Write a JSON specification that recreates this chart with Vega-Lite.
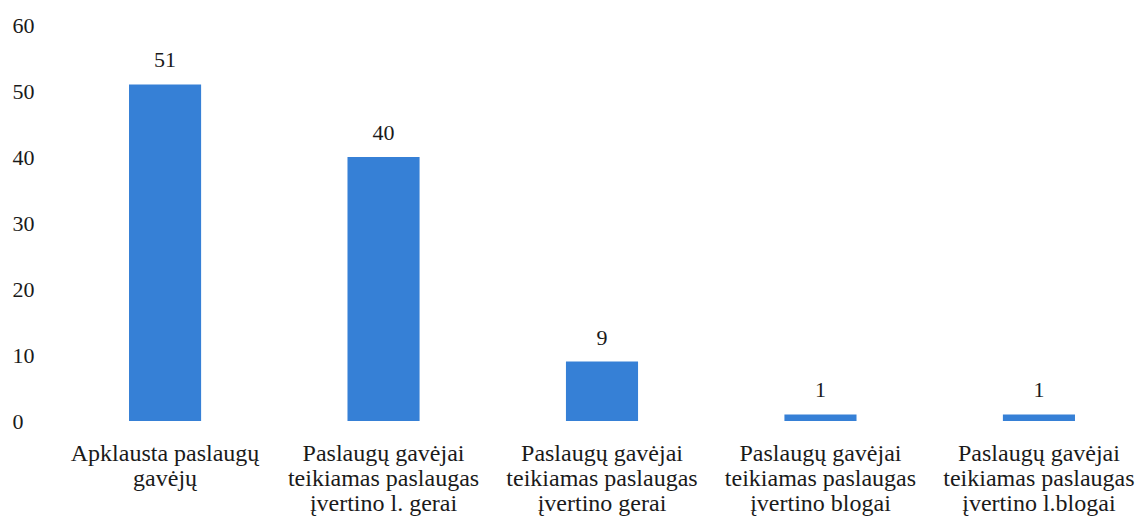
{
  "$schema": "https://vega.github.io/schema/vega-lite/v6.json",
  "width": 1074,
  "height": 396,
  "autosize": {"type": "none"},
  "padding": {"left": 65, "top": 25, "right": 0, "bottom": 102},
  "background": "white",
  "config": {
    "view": {"stroke": null},
    "font": "Liberation Serif"
  },
  "data": {
    "values": [
      {"kategorija": "Apklausta paslaugų\ngavėjų", "skaicius": 51},
      {"kategorija": "Paslaugų gavėjai\nteikiamas paslaugas\nįvertino l. gerai", "skaicius": 40},
      {"kategorija": "Paslaugų gavėjai\nteikiamas paslaugas\nįvertino gerai", "skaicius": 9},
      {"kategorija": "Paslaugų gavėjai\nteikiamas paslaugas\nįvertino blogai", "skaicius": 1},
      {"kategorija": "Paslaugų gavėjai\nteikiamas paslaugas\nįvertino l.blogai", "skaicius": 1}
    ]
  },
  "encoding": {
    "x": {
      "field": "kategorija",
      "type": "nominal",
      "sort": null,
      "scale": {"paddingInner": 0.67, "paddingOuter": 0.293},
      "axis": {
        "title": null,
        "domain": false,
        "ticks": false,
        "labelAngle": 0,
        "labelExpr": "split(datum.label, '\\n')",
        "labelLineHeight": 25,
        "labelBaseline": "top",
        "labelPadding": 20,
        "labelFontSize": 24,
        "labelFont": "Liberation Serif",
        "labelColor": "#1a1a1a",
        "labelLimit": 400,
        "labelOverlap": false,
        "labelBound": false
      }
    },
    "y": {
      "field": "skaicius",
      "type": "quantitative",
      "scale": {"domain": [0, 60], "nice": false},
      "axis": {
        "title": null,
        "domain": false,
        "ticks": false,
        "grid": false,
        "values": [0, 10, 20, 30, 40, 50, 60],
        "labelAlign": "left",
        "labelPadding": 53,
        "labelFontSize": 22,
        "labelFont": "Liberation Serif",
        "labelColor": "#1a1a1a"
      }
    }
  },
  "layer": [
    {
      "mark": {"type": "bar", "color": "#3680d6"}
    },
    {
      "mark": {
        "type": "text",
        "baseline": "middle",
        "dy": -24,
        "fontSize": 22,
        "font": "Liberation Serif",
        "color": "#1a1a1a"
      },
      "encoding": {
        "text": {"field": "skaicius", "type": "quantitative"}
      }
    }
  ]
}
